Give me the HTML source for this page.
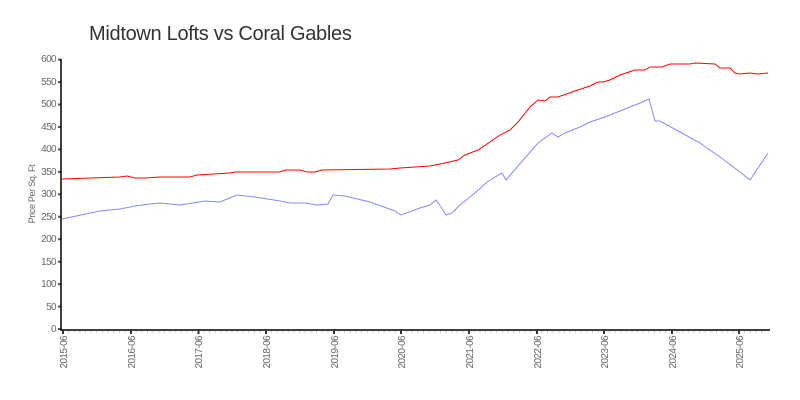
<!DOCTYPE html>
<html><head><style>body{margin:0;background:#fff}svg{display:block}text{font-family:"Liberation Sans",sans-serif}</style></head><body>
<svg width="800" height="400" xmlns="http://www.w3.org/2000/svg">
<text x="89" y="40" font-size="20" fill="#333" letter-spacing="-0.3">Midtown Lofts vs Coral Gables</text>
<text transform="translate(35,194) rotate(-90)" font-size="9" fill="#666" text-anchor="middle" letter-spacing="-0.3">Price Per Sq. Ft</text>
<g font-size="10" fill="#666" text-anchor="end" letter-spacing="-0.6">
<text x="56" y="332">0</text><text x="56" y="310">50</text><text x="56" y="287">100</text><text x="56" y="265">150</text><text x="56" y="242">200</text><text x="56" y="220">250</text><text x="56" y="197">300</text><text x="56" y="175">350</text><text x="56" y="152">400</text><text x="56" y="130">450</text><text x="56" y="107">500</text><text x="56" y="85">550</text><text x="56" y="62">600</text>
</g>
<g stroke="#555" stroke-width="2">
<path d="M58 329h3M58 306.6h3M58 284.1h3M58 261.7h3M58 239.2h3M58 216.8h3M58 194.3h3M58 171.9h3M58 149.4h3M58 127h3M58 104.5h3M58 82.1h3M58 59.6h3"/>
</g>
<g id="mt" stroke="#ccc" stroke-width="1"></g>
<path d="M61 59V330H770" fill="none" stroke="#000" stroke-width="1.5"/>
<g stroke="#333" stroke-width="2">
<path d="M63 329v5M131 329v5M198.5 329v5M266 329v5M334 329v5M401 329v5M469 329v5M537 329v5M604 329v5M672 329v5M739 329v5"/>
</g>
<g font-size="10" fill="#666" text-anchor="end" letter-spacing="-0.6">
<text transform="translate(67,336) rotate(-90)">2015-06</text>
<text transform="translate(135,336) rotate(-90)">2016-06</text>
<text transform="translate(202,336) rotate(-90)">2017-06</text>
<text transform="translate(270,336) rotate(-90)">2018-06</text>
<text transform="translate(338,336) rotate(-90)">2019-06</text>
<text transform="translate(405,336) rotate(-90)">2020-06</text>
<text transform="translate(473,336) rotate(-90)">2021-06</text>
<text transform="translate(541,336) rotate(-90)">2022-06</text>
<text transform="translate(608,336) rotate(-90)">2023-06</text>
<text transform="translate(676,336) rotate(-90)">2024-06</text>
<text transform="translate(743,336) rotate(-90)">2025-06</text>
</g>
<path fill="none" stroke="#f00" stroke-width="1" d="M62 179L120 177L127 176L135 178L145 178L160 177L190 177L197 175L230 173L235 172L280 172L285 170L300 170L307 172L315 172L322 170L390 169L400 168L430 166L445 163L458 160L465 155L478 150L490 142L500 135L510 130L518 122L530 107L538 100L545 101L550 97L558 97L575 91L590 86L598 82L603 82L610 80L620 75L635 70L645 70L650 67L662 67L670 64L690 64L695 63L715 64L720 68L730 68L735 73L740 74L750 73L757 74L768 73"/>
<path fill="none" stroke="#88f" stroke-width="1" d="M62 219L100 211L120 209L135 206L150 204L160 203L170 204L180 205L205 201L220 202L237 195L255 197L280 201L290 203L305 203L317 205L328 204L333 195L345 196L370 202L395 211L401 215L420 208L430 205L436 200L441 207L446 215L452 213L460 205L475 193L487 182L502 173L506 180L518 166L538 143L552 133L558 137L565 133L580 127L590 122L605 117L625 109L640 103L649 99L655 121L660 121L680 132L700 143L720 157L740 172L750 180L768 153"/>
<script>
var g=document.getElementById('mt'),s='';for(var i=0;i<=124;i++){var x=63+i*67.6/12;s+='M'+x.toFixed(1)+' 330v3';}
var p=document.createElementNS('http://www.w3.org/2000/svg','path');p.setAttribute('d',s);g.appendChild(p);
</script>
</svg>
</body></html>
